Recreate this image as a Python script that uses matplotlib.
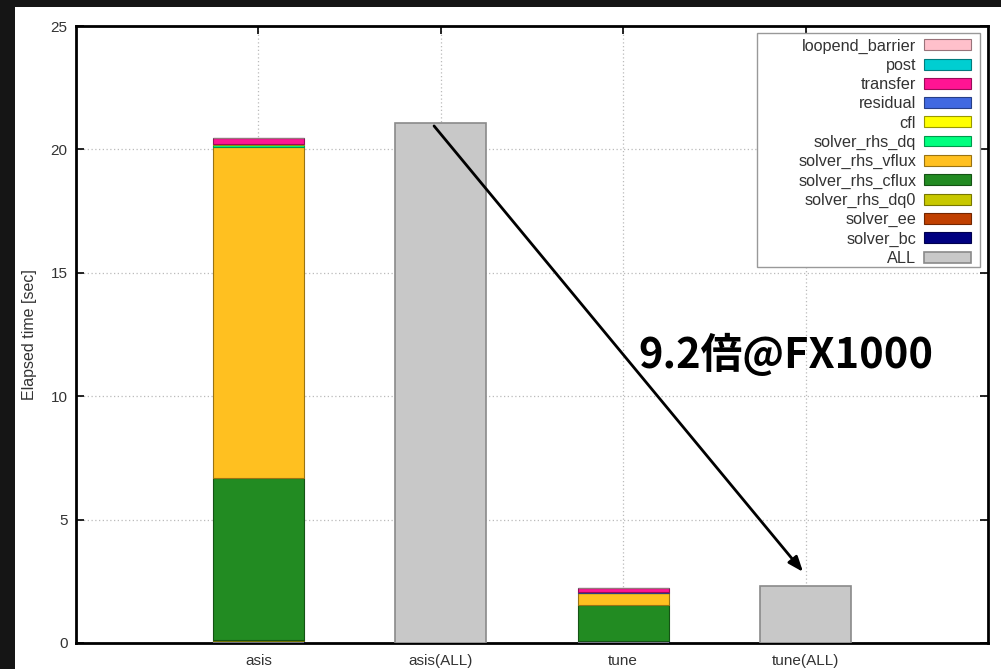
"""Stacked elapsed-time breakdown, asis vs tune (gnuplot-like look)."""

import matplotlib

matplotlib.use("Agg")
import matplotlib.pyplot as plt
from matplotlib.patches import Rectangle

plt.rcParams["font.family"] = ["Liberation Sans", "DejaVu Sans"]

CATEGORIES = ["asis", "asis(ALL)", "tune", "tune(ALL)"]

# stacked components, bottom to top; only the breakdown bars (asis, tune) use them
COMPONENTS = [
    "solver_bc",
    "solver_ee",
    "solver_rhs_dq0",
    "solver_rhs_cflux",
    "solver_rhs_vflux",
    "solver_rhs_dq",
    "cfl",
    "residual",
    "transfer",
    "post",
    "loopend_barrier",
]
COLORS = [
    "#000080",
    "#c04000",
    "#c8c800",
    "#228b22",
    "#ffc020",
    "#00ff7f",
    "#ffff00",
    "#4169e1",
    "#ff1493",
    "#00ced1",
    "#ffc0cb",
]
solver_bc = [0.10, 0.0, 0.08, 0.0]
solver_ee = [0.0, 0.0, 0.0, 0.0]
solver_rhs_dq0 = [0.02, 0.0, 0.01, 0.0]
solver_rhs_cflux = [6.55, 0.0, 1.45, 0.0]
solver_rhs_vflux = [13.43, 0.0, 0.48, 0.0]
solver_rhs_dq = [0.08, 0.0, 0.02, 0.0]
cfl = [0.02, 0.0, 0.0, 0.0]
residual = [0.0, 0.0, 0.03, 0.0]
transfer = [0.27, 0.0, 0.15, 0.0]
post = [0.0, 0.0, 0.0, 0.0]
loopend_barrier = [0.0, 0.0, 0.0, 0.0]
ALL = [0.0, 21.08, 0.0, 2.30]

VALUES = [
    solver_bc,
    solver_ee,
    solver_rhs_dq0,
    solver_rhs_cflux,
    solver_rhs_vflux,
    solver_rhs_dq,
    cfl,
    residual,
    transfer,
    post,
    loopend_barrier,
]


def darker(hex_color: str, factor: float = 0.6) -> tuple:
    rgb = matplotlib.colors.to_rgb(hex_color)
    return tuple(c * factor for c in rgb)


def main() -> None:
    fig = plt.figure(figsize=(10.01, 6.69), dpi=100, facecolor="#151515")
    fig.patches.append(
        Rectangle((15 / 1001, 0), 1 - 15 / 1001, 1 - 7 / 669, transform=fig.transFigure, facecolor="white", edgecolor="none", zorder=-10)
    )
    ax = fig.add_axes([76 / 1001, 26 / 669, 912 / 1001, 617 / 669])

    positions = list(range(1, len(CATEGORIES) + 1))
    bottoms = [0.0] * len(CATEGORIES)
    handles = []
    for name, color, values in zip(COMPONENTS, COLORS, VALUES):
        bars = ax.bar(positions, values, width=0.5, bottom=bottoms, color=color, edgecolor=darker(color), linewidth=0.8, label=name, zorder=3)
        handles.append(bars)
        bottoms = [b + v for b, v in zip(bottoms, values)]
    all_bars = ax.bar(positions, ALL, width=0.5, color="#c8c8c8", edgecolor="#8a8a8a", linewidth=1.2, label="ALL", zorder=3)

    ax.set_xlim(0, 5)
    ax.set_ylim(0, 25)
    ax.set_xticks(positions)
    ax.set_xticklabels(CATEGORIES)
    ax.set_yticks([0, 5, 10, 15, 20, 25])
    ax.tick_params(axis="both", direction="in", length=6, width=1.2, labelsize=11, colors="black", labelcolor="#333333",
                   top=True, right=True, pad=6)
    ax.tick_params(axis="x", pad=8)
    ax.grid(True, linestyle=(0, (1, 2)), color="#bbbbbb", linewidth=0.9, zorder=0)
    for spine in ax.spines.values():
        spine.set_linewidth(2.0)
        spine.set_color("black")
    ax.set_ylabel("Elapsed time [sec]", fontsize=11.5, color="#333333", labelpad=10)

    # gnuplot-style key box: wider than its contents, so drawn separately
    ax.add_patch(Rectangle((0.7467, 0.6094), 0.2445, 0.3793, transform=ax.transAxes, facecolor="white",
                           edgecolor="#999999", linewidth=1.0, zorder=4))
    legend = ax.legend(
        handles[::-1] + [all_bars],
        COMPONENTS[::-1] + ["ALL"],
        loc="upper right",
        bbox_to_anchor=(0.988, 0.989),
        borderaxespad=0,
        frameon=False,
        markerfirst=False,
        fontsize=11.7,
        handlelength=2.9,
        handleheight=0.65,
        labelspacing=0.26,
        handletextpad=0.5,
        borderpad=0.35,
    )
    for text in legend.get_texts():
        text.set_ha("right")
        text.set_color("#333333")
    legend.set_zorder(5)

    ax.annotate(
        "",
        xy=(3.986, 2.88),
        xytext=(1.963, 20.95),
        arrowprops=dict(arrowstyle="-|>,head_length=0.9,head_width=0.35", color="black", lw=2.0, shrinkA=0, shrinkB=0),
        zorder=6,
    )
    ax.text(3.89, 11.67, "9.2倍@FX1000", fontsize=30, fontweight="bold", ha="center", va="center",
            family=["Noto Sans CJK JP", "DejaVu Sans"], color="black", zorder=6)

    fig.savefig("out.png", dpi=100, facecolor=fig.get_facecolor())


if __name__ == "__main__":
    main()
